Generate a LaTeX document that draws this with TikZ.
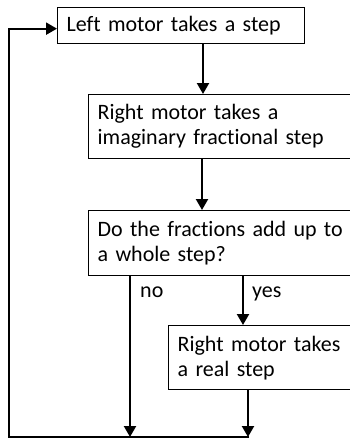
\documentclass[tikz,border=0pt]{standalone}
\usepackage{fontspec}
\setmainfont{Carlito}[Ligatures=NoCommon]
\usetikzlibrary{arrows.meta}
\begin{document}
\begin{tikzpicture}[x=1pt,y=-1pt,
  box/.style={draw=black,line width=1.3pt,anchor=north west,align=left,inner xsep=9pt,inner ysep=0pt,font=\fontsize{22}{25}\selectfont},
  arr/.style={line width=2.2pt,-{Triangle[length=11pt,width=12pt]}},
  lbl/.style={anchor=base west,inner sep=0pt,font=\fontsize{22}{25}\selectfont}]
\useasboundingbox (0,0) rectangle (350,440);
\node[box,minimum width=247pt,minimum height=36pt,text width=229pt] (b1) at (57,7) {Left motor takes a step};
\node[box,minimum width=272pt,minimum height=64pt,text width=254pt] (b2) at (88,94) {Right motor takes a\\imaginary fractional step};
\node[box,minimum width=272pt,minimum height=65pt,text width=254pt] (b3) at (88,210) {Do the fractions add up to\\a whole step?};
\node[box,minimum width=192pt,minimum height=64pt,text width=174pt] (b4) at (168,325) {Right motor takes\\a real step};
\coordinate (c1) at (203,0);
\coordinate (c2) at (202,0);
\coordinate (cno) at (130,0);
\coordinate (cyes) at (243,0);
\coordinate (c4) at (248,0);
\coordinate (bl) at (9,437);
\coordinate (br) at (249,437);
\draw[arr] (b1.south -| c1) -- (b2.north -| c1);
\draw[arr] (b2.south -| c2) -- (b3.north -| c2);
\draw[arr] (b3.south -| cno) -- (bl -| cno);
\draw[arr] (b3.south -| cyes) -- (b4.north -| cyes);
\draw[arr] (b4.south -| c4) -- (bl -| c4);
\draw[arr] (br) -- (bl) |- ([yshift=-3pt]b1.west);
\node[lbl] (no) at (140,297) {no};
\node[lbl] (yes) at (252,297) {yes};
\end{tikzpicture}
\end{document}
